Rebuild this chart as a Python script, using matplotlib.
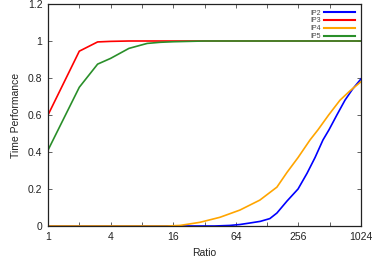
import matplotlib
matplotlib.use("Agg")
import matplotlib.pyplot as plt
from matplotlib.ticker import FixedLocator, FixedFormatter, NullLocator

plt.rcParams['font.family'] = ['Liberation Sans', 'DejaVu Sans']

# IP2 (blue)
ip2_x = [1, 40, 56, 70, 87, 110, 136, 159, 199, 254, 310, 370, 441, 504, 600, 718, 850, 1024]
ip2_y = [0, 0, 0.003, 0.008, 0.016, 0.025, 0.04, 0.07, 0.135, 0.2, 0.285, 0.37, 0.465, 0.52, 0.6, 0.68, 0.74, 0.795]
# IP3 (red)
ip3_x = [1, 2, 3, 4, 6, 8, 16, 1024]
ip3_y = [0.6, 0.945, 0.995, 0.998, 1.0, 1.0, 1.0, 1.0]
# IP4 (orange)
ip4_x = [1, 14, 18.6, 29, 45, 70, 109, 159, 199, 254, 331, 395, 500, 643, 800, 1024]
ip4_y = [0, 0, 0.003, 0.02, 0.047, 0.086, 0.14, 0.21, 0.29, 0.37, 0.465, 0.52, 0.6, 0.68, 0.73, 0.78]
# IP5 (green)
ip5_x = [1, 2, 3, 4, 6, 9, 12, 16, 32, 1024]
ip5_y = [0.41, 0.75, 0.875, 0.906, 0.96, 0.987, 0.993, 0.996, 1.0, 1.0]

series = [("IP2", ip2_x, ip2_y, "#0000ff"),
          ("IP3", ip3_x, ip3_y, "#ff0000"),
          ("IP4", ip4_x, ip4_y, "#ffa500"),
          ("IP5", ip5_x, ip5_y, "#2a8f2a")]

xticks = [2 ** k for k in range(11)]
xlabels = [str(t) if k % 2 == 0 else "" for k, t in enumerate(xticks)]
yticks = [0, 0.2, 0.4, 0.6, 0.8, 1, 1.2]
ylabels = ["0", "0.2", "0.4", "0.6", "0.8", "1", "1.2"]

fig = plt.figure(figsize=(3.74, 2.57), dpi=100)
ax = fig.add_axes([48 / 374, 1 - 226 / 257, (361 - 48) / 374, (226 - 4) / 257])

for name, xs, ys, c in series:
    ax.plot(xs, ys, color=c, lw=1.2, label=name)

ax.set_xscale('log', base=2)
ax.set_xlim(1, 1024)
ax.set_ylim(0, 1.2)
ax.xaxis.set_major_locator(FixedLocator(xticks))
ax.xaxis.set_major_formatter(FixedFormatter(xlabels))
ax.xaxis.set_minor_locator(NullLocator())
ax.set_yticks(yticks)
ax.set_yticklabels(ylabels)
ax.tick_params(direction='in', length=3, width=0.5, top=True, right=True,
               labelsize=7.5, colors='#222222', pad=4)
for s in ax.spines.values():
    s.set_linewidth(0.9)
    s.set_color('#222222')

ax.set_xlabel("Ratio", fontsize=7.5, color='#222222', labelpad=5)
ax.set_ylabel("Time Performance", fontsize=7.5, color='#222222', labelpad=5)

leg = ax.legend(loc='upper right', frameon=False, fontsize=5, markerfirst=False,
                handlelength=4.5, handletextpad=0.5, labelspacing=0.13,
                borderaxespad=0.5, borderpad=0.3, labelcolor='#444444')
for line in leg.get_lines():
    line.set_linewidth(1.5)

fig.savefig("out.png", dpi=100)
